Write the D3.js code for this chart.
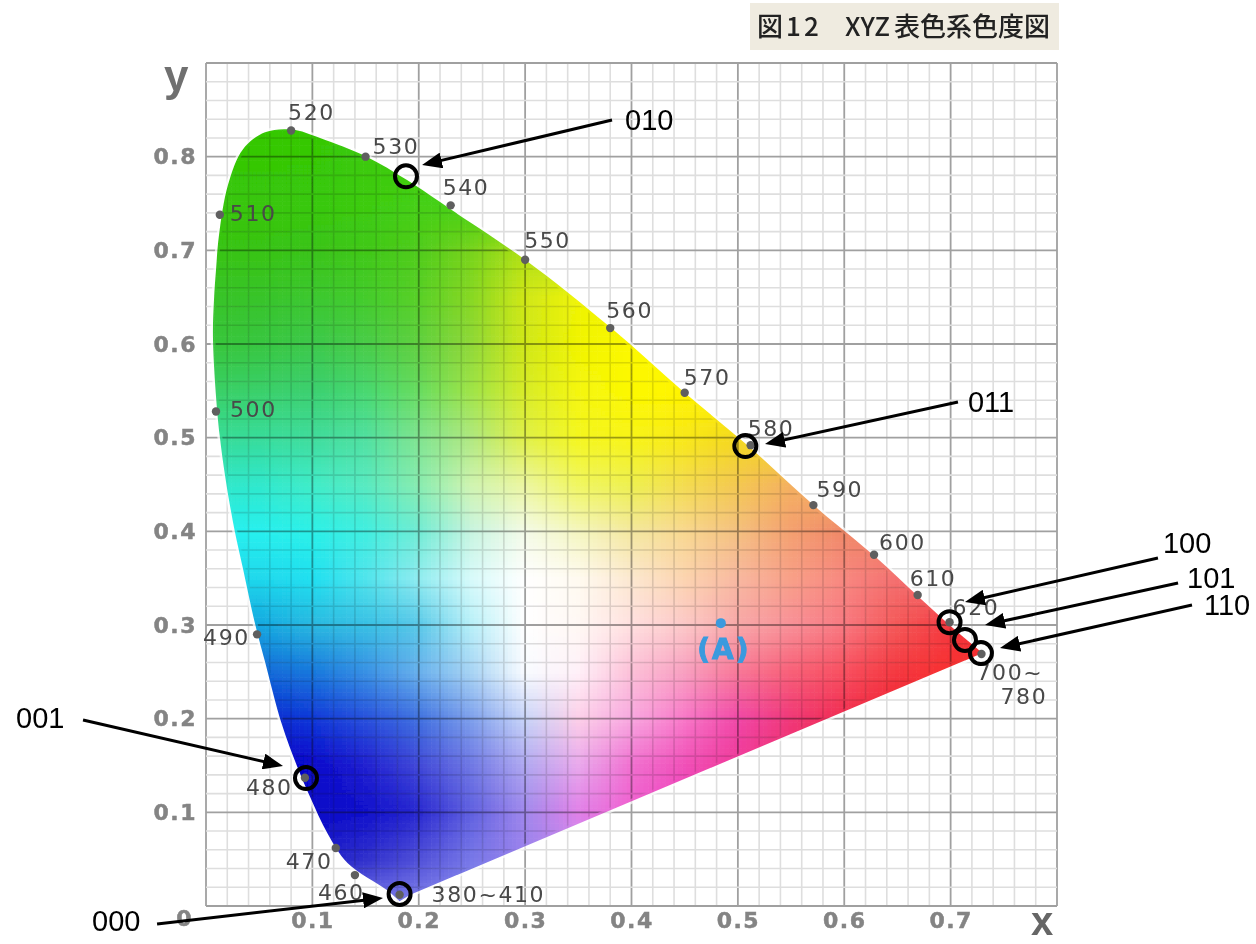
<!DOCTYPE html>
<html><head><meta charset="utf-8">
<script src="https://cdn.jsdelivr.net/npm/d3@7"></script>
<style>html,body{margin:0;background:#fff}svg{display:block}</style></head>
<body><svg id="c" width="1256" height="944"></svg>
<script>
const xTicks = [0.1,0.2,0.3,0.4,0.5,0.6,0.7];
const yTicks = [0.1,0.2,0.3,0.4,0.5,0.6,0.7,0.8];
// spectral locus
const locusX = [.182,.170,.133,.114,.098,.086,.071,.055,.046,.035,.025,.013,.0066,.0075,.0094,.0122,.0207,.0348,.0555,.0808,.1072,.151,.189,.231,.300,.381,.450,.511,.571,.629,.668,.699,.730];
const locusY = [.005,.017,.046,.078,.116,.148,.195,.263,.302,.359,.412,.501,.604,.647,.679,.716,.770,.808,.826,.829,.820,.800,.775,.743,.690,.617,.548,.490,.428,.373,.332,.300,.270];
const purpleEnd = [.192,.012];
// wavelength markers
const waveNames = ["380~410","460","470","480","490","500","510","520","530","540","550","560","570","580","590","600","610","620","700~"];
const waveX = [.182,.140,.122,.093,.048,.0094,.013,.080,.150,.230,.300,.380,.450,.512,.571,.628,.669,.699,.729];
const waveY = [.012,.033,.062,.137,.290,.528,.738,.828,.800,.748,.690,.617,.548,.492,.428,.375,.332,.303,.269];
// colour table: rows y=.85 … 0, columns x=0,.05,.1 …; a short row repeats its last colour
const colorRows = [
 "35c805",
 "35c805,35c805,36c806,3cca0a",
 "38c60a,38c60a,38c80a,3ccb10,45d015",
 "38c414,38c414,3ac41a,40c818,50cc1c,78d41c,b0e018",
 "38c428,38c42a,3cc830,44cc2c,58d028,88d824,d0e818,f0f408",
 "38c63a,38c640,3cc84a,48cc48,60d040,90d838,d0e818,f0f400,fcf800",
 "3ad066,3ad06a,3cd070,48d870,68dc60,a0e448,d8ec28,f4f610,fcf800,fff400",
 "38dc96,38dc9a,40dc9c,50e0a0,80e490,b0e880,e0f048,f4f620,f8f418,f8e818,f4d820",
 "30e8c8,30e8cc,40ecc8,58eac0,88ecb0,d0f4b0,ecf6a0,f0f660,eef050,f4dc50,f4c850,f4b060",
 "28f0f0,28f0ee,2cf0e8,40eee0,70ecd4,c8f4e0,f4fbe8,f4f6c0,f4e8a0,f8d890,f4c080,f4a070,f08868",
 "20d8ec,20d8ec,20e0f0,50e4ec,90ecf0,d8fafa,ffffff,fffaf0,fce8d0,fcd4b0,f8b8a0,f8a088,f88880,f47070",
 "14a8e0,14a8e0,2ab8e0,38c0e4,58c8e8,b8f0f8,ffffff,fff8f4,ffe0e0,fcc8c8,f8a8a8,f89098,f87880,f45858,f43840,f43030",
 "1068d8,1068d8,1878dc,3890e4,68b0ec,a8d4f4,f8fbff,fff0f8,fcc0d8,f8a0c0,f87898,f86078,f85060,f43840,f83030,f02828",
 "0c28d0,0c28d0,1038d8,2850dc,4070e0,7ea0ec,c8d4f8,fccfe8,f8a8e0,f878c8,f048a8,f03878,f02c50,f02030",
 "0000c4,0000c4,0808cc,2020d0,4048d8,7078e4,b0a8f0,e8a8ec,f070d0,f050b8,f03898,f03070,f02050",
 "0000c4,0000c4,0808c8,1010cc,2828d0,6060e0,a088ec,e080e8,f060d0,f040c0",
 "3030d0,3030d0,2020c8,3030cc,5050d8,7878e8,9a80ec,c090f0",
 "6060e0,6060e0,6868e0,7878e8,8484ec,9090f0"
].map(r=>r.split(","));
// annotation marks
const bitNames = ["000","001","010","011","100","101","110"];
const circleX = [.182,.094,.188,.507,.699,.7135,.7285];
const circleY = [.0128,.1366,.779,.491,.303,.284,.270];
const arrowFromX = [-.046,-.1156,.3817,.7069,.8949,.9138,.9269];
const arrowFromY = [-.0192,.1986,.8391,.5381,.3715,.3448,.3213];
const arrowToX = [.1664,.0724,.2031,.5255,.7135,.7323,.7464];
const arrowToY = [.0085,.1495,.7911,.4932,.3245,.3,.2754];
const illuminantA = [.484,.302];

// layout
const W=1256,H=944, L=206,R=1057,T=63,B=906;
const x=d3.scaleLinear().domain([0,.8]).range([L,R]);
const y=d3.scaleLinear().domain([0,.9]).range([B,T]);
const waveLabelPos={ "380~410":[32,7],"460":[-37,25],"470":[-50,21],"480":[-59,17],"490":[-54,11],"500":[14,6],"510":[10,6],"520":[-3,-10],"530":[7,-3],"540":[-8,-10],"550":[-1,-12],"560":[-4,-10],"570":[-1,-8],"580":[-3,-9],"590":[3,-8],"600":[5,-5],"610":[-8,-9],"620":[3,-7],"700~":[-5,26]};
const bitLabelPos=[[-65,7],[-67,8],[13,10],[10,10],[5,-5],[9,5],[12,10]];

const svg=d3.select("#c");
const defs=svg.append("defs");
defs.append("filter").attr("id","soft").attr("filterUnits","userSpaceOnUse").attr("x",0).attr("y",0).attr("width",W).attr("height",H)
  .append("feGaussianBlur").attr("stdDeviation",0.6);
defs.append("marker").attr("id","head").attr("viewBox","0 0 20 16").attr("refX",12).attr("refY",8)
  .attr("markerUnits","userSpaceOnUse").attr("markerWidth",20).attr("markerHeight",16).attr("orient","auto")
  .append("path").attr("d","M0,0L20,8L0,16Z").attr("fill","#000");

const locus=locusX.map((v,i)=>[v,locusY[i]]);
const line=d3.line().x(d=>x(d[0])).y(d=>y(d[1])).curve(d3.curveCatmullRom);
const locusPath=line(locus)+"L"+x(purpleEnd[0])+","+y(purpleEnd[1])+"Z";
defs.append("clipPath").attr("id","gamut").append("path").attr("d",locusPath);

const base=svg.append("g").attr("filter","url(#soft)");
base.append("rect").attr("x",750).attr("y",3).attr("width",309).attr("height",47).attr("fill","#efebe0");
const title=base.append("text").attr("y",36).attr("font-family","'Noto Sans CJK JP'").attr("font-size",26).attr("font-weight",500).attr("fill","#222");
title.append("tspan").attr("x",757).text("図");
title.append("tspan").attr("x",786).text("1");
title.append("tspan").attr("x",804).text("2");
title.append("tspan").attr("x",845).text("XYZ");
title.append("tspan").attr("x",894).text("表色系色度図");

// grid
const grid=base.append("g");
const minorX=d3.range(0,41).map(i=>i*.02), minorY=d3.range(0,46).map(i=>i*.02);
const isMajor=i=>i%5===0;
function gridLines(vals,vertical){
  grid.append("g").selectAll("line").data(vals.map((v,i)=>({v,i})).sort((a,b)=>isMajor(a.i)-isMajor(b.i))).join("line")
   .attr("x1",d=>vertical?x(d.v):L).attr("x2",d=>vertical?x(d.v):R)
   .attr("y1",d=>vertical?T:y(d.v)).attr("y2",d=>vertical?B:y(d.v))
   .attr("stroke",d=>isMajor(d.i)?"#a0a0a0":"#dedede")
   .attr("stroke-width",d=>isMajor(d.i)?1.8:1.6);
}
gridLines(minorX,true); gridLines(minorY,false);

base.append("path").attr("d",locusPath).attr("fill","none").attr("stroke","#fff").attr("stroke-width",5).attr("stroke-opacity",.7);

// colour field: cells coloured from the table, multiplied over the grid
function colorAt(px,py){
  const fx=Math.min(15.999,Math.max(0,px/.05)), ry=Math.min(16.999,Math.max(0,(.85-py)/.05));
  const i=Math.floor(fx), j=Math.floor(ry), u=fx-i, v=ry-j;
  const c=(a,b)=>"#"+colorRows[a][Math.min(b,colorRows[a].length-1)];
  const top=d3.interpolateRgb(c(j,i),c(j,i+1))(u), bot=d3.interpolateRgb(c(j+1,i),c(j+1,i+1))(u);
  return d3.interpolateRgb(top,bot)(v);
}
const cw=.004,ch=.004,cells=[];
const poly=locus.concat([purpleEnd]);
for(let a=0;a<.745;a+=cw)for(let b=0;b<.84;b+=ch){
  if([[a,b],[a+cw,b],[a,b+ch],[a+cw,b+ch],[a-cw,b],[a+2*cw,b],[a,b+2*ch],[a,b-ch]].some(p=>d3.polygonContains(poly,p))) cells.push([a,b]);
}
base.append("g").attr("clip-path","url(#gamut)").style("mix-blend-mode","multiply")
 .selectAll("rect").data(cells).join("rect")
 .attr("x",d=>x(d[0])-.3).attr("y",d=>y(d[1]+ch)-.3)
 .attr("width",x(cw)-x(0)+.6).attr("height",y(0)-y(ch)+.6)
 .attr("fill",d=>colorAt(d[0]+cw/2,d[1]+ch/2));

// axes
const tickStyle=s=>{s.select(".domain").remove();s.selectAll(".tick line").remove();
 s.selectAll("text").attr("font-family","'DejaVu Sans'").attr("font-weight","bold").attr("font-size",22).attr("fill","#848484").attr("stroke","#848484").attr("stroke-width",.5).style("letter-spacing","1.5px");};
base.append("g").attr("transform",`translate(${L-9},0)`).call(d3.axisLeft(y).tickValues(yTicks).tickSize(0).tickPadding(0).tickFormat(d3.format(".1f"))).call(tickStyle);
base.append("g").attr("transform",`translate(0,${B+6})`).call(d3.axisBottom(x).tickValues(xTicks).tickSize(0).tickPadding(0).tickFormat(d3.format(".1f"))).call(tickStyle);
base.append("text").attr("x",x(0)-22).attr("y",y(0)+20).attr("text-anchor","middle").attr("font-family","'DejaVu Sans'").attr("font-weight","bold").attr("font-size",22).attr("fill","#848484").attr("stroke","#848484").attr("stroke-width",.5).text("0");
base.append("text").attr("x",164).attr("y",91).attr("font-family","'Liberation Sans'").attr("font-weight","bold").attr("font-size",44).attr("fill","#707070").text("y");
base.append("text").attr("x",1031).attr("y",935).attr("font-family","'Liberation Sans'").attr("font-weight","bold").attr("font-size",40).attr("fill","#666").text("x");

// wavelength dots and labels
base.append("g").selectAll("circle").data(waveNames).join("circle")
 .attr("cx",(d,i)=>x(waveX[i])).attr("cy",(d,i)=>y(waveY[i])).attr("r",4.2).attr("fill","#5e5e5e");
const waveLabel=base.append("g").attr("font-family","'DejaVu Sans'").attr("font-size",22).attr("fill","#484848").style("letter-spacing","1.6px");
waveLabel.selectAll("text").data(waveNames).join("text")
 .attr("x",(d,i)=>x(waveX[i])+waveLabelPos[d][0]).attr("y",(d,i)=>y(waveY[i])+waveLabelPos[d][1]).text(d=>d);
waveLabel.append("text").attr("x",x(waveX[18])+19).attr("y",y(waveY[18])+50).text("780");

// illuminant A
base.append("circle").attr("cx",x(illuminantA[0])).attr("cy",y(illuminantA[1])).attr("r",5).attr("fill","#3a9ade");
base.append("text").attr("x",x(illuminantA[0])+3).attr("y",y(illuminantA[1])+36).attr("text-anchor","middle")
 .attr("font-family","'DejaVu Sans'").attr("font-weight","bold").attr("font-size",28).style("letter-spacing","2px").attr("fill","#3a9ade").attr("stroke","#3a9ade").attr("stroke-width",1).text("(A)");

// annotations
const ann=svg.append("g");
ann.selectAll("circle").data(bitNames).join("circle")
 .attr("cx",(d,i)=>x(circleX[i])).attr("cy",(d,i)=>y(circleY[i])).attr("r",11).attr("fill","none").attr("stroke","#000").attr("stroke-width",4);
ann.selectAll("line").data(bitNames).join("line").each(function(d,i){
  const x1=x(arrowFromX[i]),y1=y(arrowFromY[i]),x2=x(arrowToX[i]),y2=y(arrowToY[i]);
  const len=Math.hypot(x2-x1,y2-y1),k=(len-8)/len;
  d3.select(this).attr("x1",x1).attr("y1",y1).attr("x2",x1+(x2-x1)*k).attr("y2",y1+(y2-y1)*k);
}).attr("stroke","#000").attr("stroke-width",3).attr("marker-end","url(#head)");
ann.selectAll("text").data(bitNames).join("text")
 .attr("x",(d,i)=>x(arrowFromX[i])+bitLabelPos[i][0]).attr("y",(d,i)=>y(arrowFromY[i])+bitLabelPos[i][1])
 .attr("font-family","'Liberation Sans'").attr("font-size",29).attr("fill","#000").text(d=>d);
</script></body></html>
